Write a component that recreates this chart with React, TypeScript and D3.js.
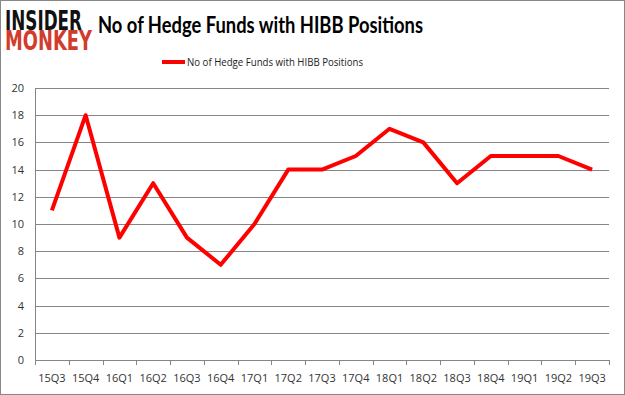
import React from 'react';
import * as d3 from 'd3';

const quarters = ['15Q3', '15Q4', '16Q1', '16Q2', '16Q3', '16Q4', '17Q1', '17Q2', '17Q3', '17Q4', '18Q1', '18Q2', '18Q3', '18Q4', '19Q1', '19Q2', '19Q3'];
const funds = [11, 18, 9, 13, 9, 7, 10, 14, 14, 15, 17, 16, 13, 15, 15, 15, 14];
const yTicks = [0, 2, 4, 6, 8, 10, 12, 14, 16, 18, 20];
const seriesName = 'No of Hedge Funds with HIBB Positions';

const W = 625;
const H = 395;
const margin = { top: 88, right: 16, bottom: 35, left: 35 };

export default function App() {
  const width = W - margin.left - margin.right;
  const height = H - margin.top - margin.bottom;

  const x = d3.scaleBand().domain(quarters).range([0, width]);
  const y = d3.scaleLinear().domain([0, 20]).range([height, 0]);

  const line = d3
    .line<number>()
    .x((_, i) => (x(quarters[i]) as number) + x.bandwidth() / 2)
    .y((d) => y(d));

  const tickXs = quarters.map((q) => x(q) as number).concat([width]);

  return (
    <svg width={W} height={H} style={{ position: 'absolute', left: 0, top: 0, fontFamily: 'Open Sans, sans-serif' }}>
      <rect x={0.5} y={0.5} width={W - 1} height={H - 1} fill="#fff" stroke="#888" />
      {/* logo, letters stretched tall like the original mark */}
      <g transform="translate(5,30) scale(1,1.4)">
        <text x={0} y={0} fontFamily="DejaVu Sans" fontWeight="bold" fontSize={19} fill="#111" textLength={77} lengthAdjust="spacingAndGlyphs">INSIDER</text>
      </g>
      <g transform="translate(5,50) scale(1,1.4)">
        <text x={0} y={0} fontFamily="DejaVu Sans" fontWeight="bold" fontSize={19} fill="#d23c2a" textLength={87} lengthAdjust="spacingAndGlyphs">MONKEY</text>
      </g>
      {/* title */}
      <text x={98} y={33} fontFamily="Lato" fontWeight="bold" fontSize={22} fill="#000" textLength={325} lengthAdjust="spacingAndGlyphs">{seriesName}</text>
      {/* legend */}
      <line x1={162} x2={185} y1={62} y2={62} stroke="#ff0000" strokeWidth={4} />
      <text x={187} y={66} fontSize={11.5} fill="#222" textLength={176} lengthAdjust="spacingAndGlyphs">{seriesName}</text>

      <g transform={`translate(${margin.left},${margin.top})`}>
        {yTicks.map((t) => (
          <g key={t}>
            <line x1={0} x2={width} y1={Math.round(y(t)) + 0.5} y2={Math.round(y(t)) + 0.5} stroke="#868686" strokeWidth={1} />
            <text x={-11} y={y(t) + 4} textAnchor="end" fontSize={11} fill="#333">{t}</text>
          </g>
        ))}
        <line x1={0.5} x2={0.5} y1={0} y2={height} stroke="#868686" />
        {tickXs.map((tx, i) => (
          <line key={i} x1={Math.round(tx) + 0.5} x2={Math.round(tx) + 0.5} y1={height} y2={height + 5} stroke="#868686" />
        ))}
        {quarters.map((q) => (
          <text key={q} x={(x(q) as number) + x.bandwidth() / 2} y={height + 22} textAnchor="middle" fontSize={11} fill="#333">{q}</text>
        ))}
        <path d={line(funds) ?? ''} fill="none" stroke="#ff0000" strokeWidth={4} strokeLinejoin="round" />
      </g>
    </svg>
  );
}
